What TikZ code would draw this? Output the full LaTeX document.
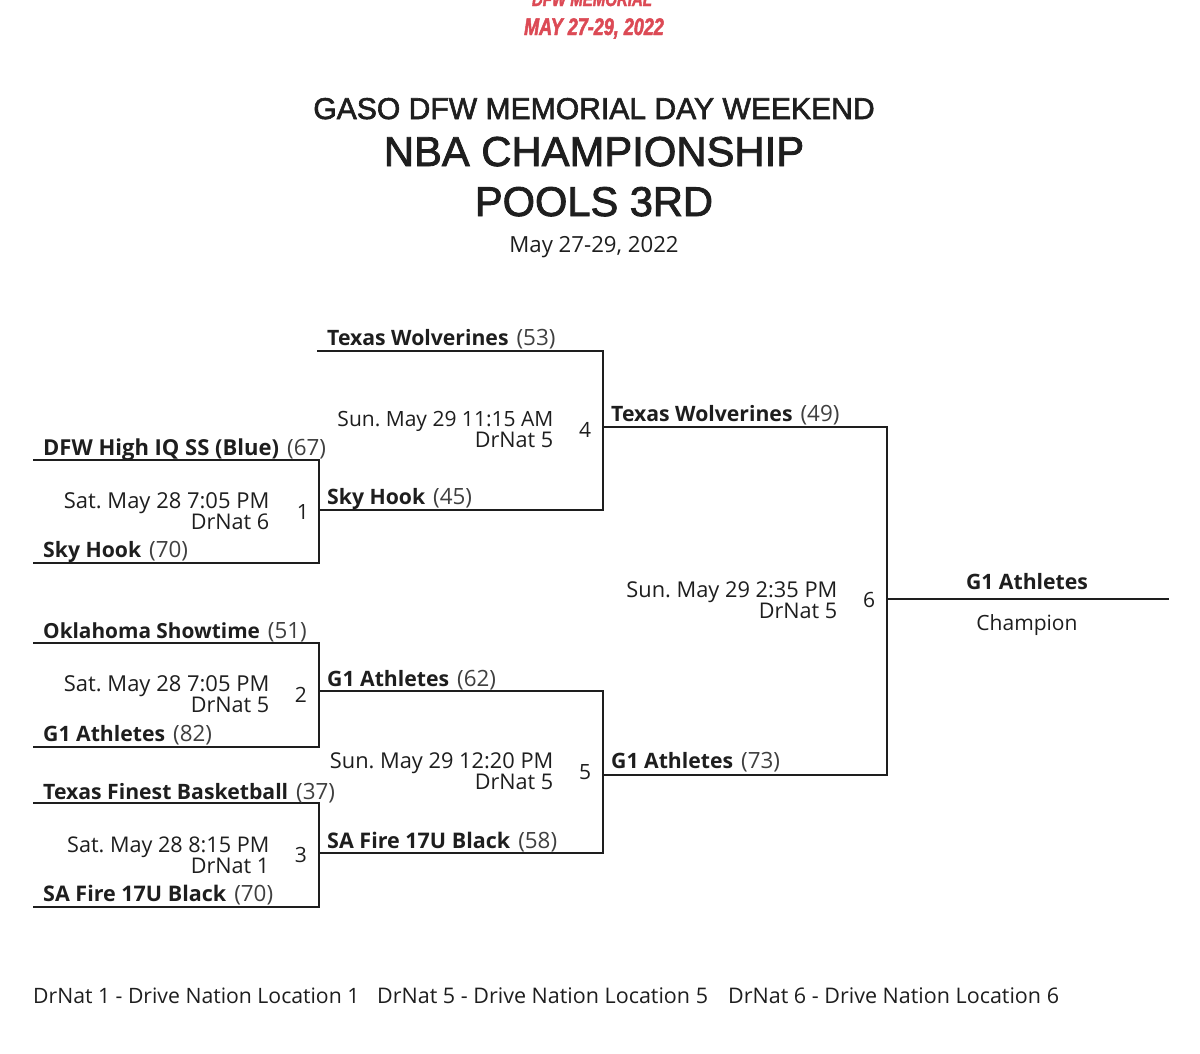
\documentclass[tikz,border=0pt]{standalone}
\usepackage{fontspec}
\setmainfont{Open Sans}
\newfontfamily\headfont[FakeBold=2]{Liberation Sans}
\newfontfamily\condfont[FakeStretch=0.75,BoldFeatures={FakeBold=2},BoldItalicFeatures={FakeBold=2}]{Liberation Sans}
\definecolor{ink}{HTML}{1E1E1E}
\definecolor{redhead}{HTML}{DC4A55}
\tikzset{
 px/.style={x=1pt,y=-1pt},
 brk/.style={draw=ink,line width=1.6pt,line cap=butt,line join=miter},
 team/.style={font=\fontsize{21.2}{24}\selectfont,text=ink,anchor=base west,inner sep=0pt},
 info/.style={font=\fontsize{21.6}{24}\selectfont,text=ink,anchor=base east,inner sep=0pt},
 infosat/.style={info,font=\fontsize{21.95}{24}\selectfont},
 infosun/.style={info,font=\fontsize{21.8}{24}\selectfont},
 infonarrow/.style={info,font=\fontsize{21}{24}\selectfont},
 num/.style={font=\fontsize{21}{24}\selectfont,text=ink,anchor=base,inner sep=0pt},
 ttl/.style={text=ink,anchor=base,inner sep=0pt},
 foot/.style={anchor=base west,inner sep=0pt,text=ink,font=\fontsize{21.5}{24}\selectfont},
 redt/.style={anchor=base,inner sep=0pt,text=redhead,font=\condfont\bfseries\itshape\fontsize{24}{26}\selectfont},
}
\newcommand{\tm}[2]{\textbf{#1}\hspace{2.5pt} \textcolor{ink!85}{\fontsize{22.4}{24}\selectfont(#2)}}
\frenchspacing
\begin{document}
\begin{tikzpicture}[px]
\useasboundingbox (0,0) rectangle (1200,1053);
\fill[white] (0,0) rectangle (1200,1053);
\begin{scope}
\clip (0,0) rectangle (1200,1053);
\node[redt,font=\condfont\bfseries\itshape\fontsize{20}{22}\selectfont] (h0) at (592,6) {DFW MEMORIAL};
\end{scope}
\node[redt] (h1) at (594,35) {MAY 27-29, 2022};
\node[ttl,font=\headfont\fontsize{30.1}{34}\selectfont] (t1) at (594,119) {GASO DFW MEMORIAL DAY WEEKEND};
\node[ttl,font=\headfont\fontsize{41.8}{46}\selectfont] (t2) at (594,166) {NBA CHAMPIONSHIP};
\node[ttl,font=\headfont\fontsize{41.6}{46}\selectfont] (t3) at (594,216) {POOLS 3RD};
\node[ttl,font=\fontsize{22.2}{24}\selectfont] (t4) at (594,252) {May 27-29, 2022};

\coordinate (a1) at (33,460); \coordinate (a2) at (319,460); \coordinate (a3) at (319,563); \coordinate (a4) at (33,563);
\draw[brk] (a1) -- (a2) -- (a3) -- (a4);
\coordinate (b1) at (33,643); \coordinate (b2) at (319,643); \coordinate (b3) at (319,747); \coordinate (b4) at (33,747);
\draw[brk] (b1) -- (b2) -- (b3) -- (b4);
\coordinate (c1) at (33,803); \coordinate (c2) at (319,803); \coordinate (c3) at (319,907); \coordinate (c4) at (33,907);
\draw[brk] (c1) -- (c2) -- (c3) -- (c4);
\coordinate (d1) at (317,351); \coordinate (d2) at (603,351); \coordinate (d3) at (603,510); \coordinate (d4) at (319,510);
\draw[brk] (d1) -- (d2) -- (d3) -- (d4);
\coordinate (e1) at (319,691); \coordinate (e2) at (603,691); \coordinate (e3) at (603,853); \coordinate (e4) at (319,853);
\draw[brk] (e1) -- (e2) -- (e3) -- (e4);
\coordinate (f1) at (603,427); \coordinate (f2) at (887,427); \coordinate (f3) at (887,775); \coordinate (f4) at (603,775);
\draw[brk] (f1) -- (f2) -- (f3) -- (f4);
\coordinate (g1) at (887,599); \coordinate (g2) at (1169,599);
\draw[brk] (g1) -- (g2);

\node[team,font=\fontsize{22}{24}\selectfont] (n1) at (43,455) {\tm{DFW High IQ SS (Blue)}{67}};
\node[team] (n2) at (43,557) {\tm{Sky Hook}{70}};
\node[team,font=\fontsize{20.8}{24}\selectfont] (n3) at (43,638) {\tm{Oklahoma Showtime}{51}};
\node[team] (n4) at (43,741) {\tm{G1 Athletes}{82}};
\node[team] (n5) at (43,799) {\tm{Texas Finest Basketball}{37}};
\node[team,font=\fontsize{21.5}{24}\selectfont] (n6) at (43,901) {\tm{SA Fire 17U Black}{70}};
\node[team] (n7) at (327,345) {\tm{Texas Wolverines}{53}};
\node[team] (n8) at (327,504) {\tm{Sky Hook}{45}};
\node[team] (n9) at (327,686) {\tm{G1 Athletes}{62}};
\node[team,font=\fontsize{21.5}{24}\selectfont] (n10) at (327,848) {\tm{SA Fire 17U Black}{58}};
\node[team] (n11) at (611,421) {\tm{Texas Wolverines}{49}};
\node[team] (n12) at (611,768) {\tm{G1 Athletes}{73}};
\node[team,anchor=base] (n13) at (1027,589) {\textbf{G1 Athletes}};
\node[num] (n14) at (1027,630) {Champion};

\node[infosat] (i1) at (269.5,508) {Sat. May 28 7:05 PM};
\node[info] (i2) at (269.5,529) {DrNat 6};
\node[infosat] (i3) at (269.5,691) {Sat. May 28 7:05 PM};
\node[info] (i4) at (269.5,712) {DrNat 5};
\node[info] (i5) at (269.5,852) {Sat. May 28 8:15 PM};
\node[info] (i6) at (269.5,873) {DrNat 1};
\node[infonarrow] (i7) at (553.5,426) {Sun. May 29 11:15 AM};
\node[info] (i8) at (553.5,447) {DrNat 5};
\node[infosun] (i9) at (553.5,768) {Sun. May 29 12:20 PM};
\node[info] (i10) at (553.5,789) {DrNat 5};
\node[infosun] (i11) at (837.5,597) {Sun. May 29 2:35 PM};
\node[info] (i12) at (837.5,618) {DrNat 5};

\node[num] (g1n) at (303,519) {1};
\node[num] (g2n) at (301,702) {2};
\node[num] (g3n) at (301,862) {3};
\node[num] (g4n) at (585,437) {4};
\node[num] (g5n) at (585,779) {5};
\node[num] (g6n) at (869,607) {6};

\node[foot,font=\fontsize{21.2}{24}\selectfont] (l1) at (33,1003) {DrNat 1 - Drive Nation Location 1};
\node[foot] (l2) at (377,1003) {DrNat 5 - Drive Nation Location 5};
\node[foot] (l3) at (728,1003) {DrNat 6 - Drive Nation Location 6};
\end{tikzpicture}
\end{document}
